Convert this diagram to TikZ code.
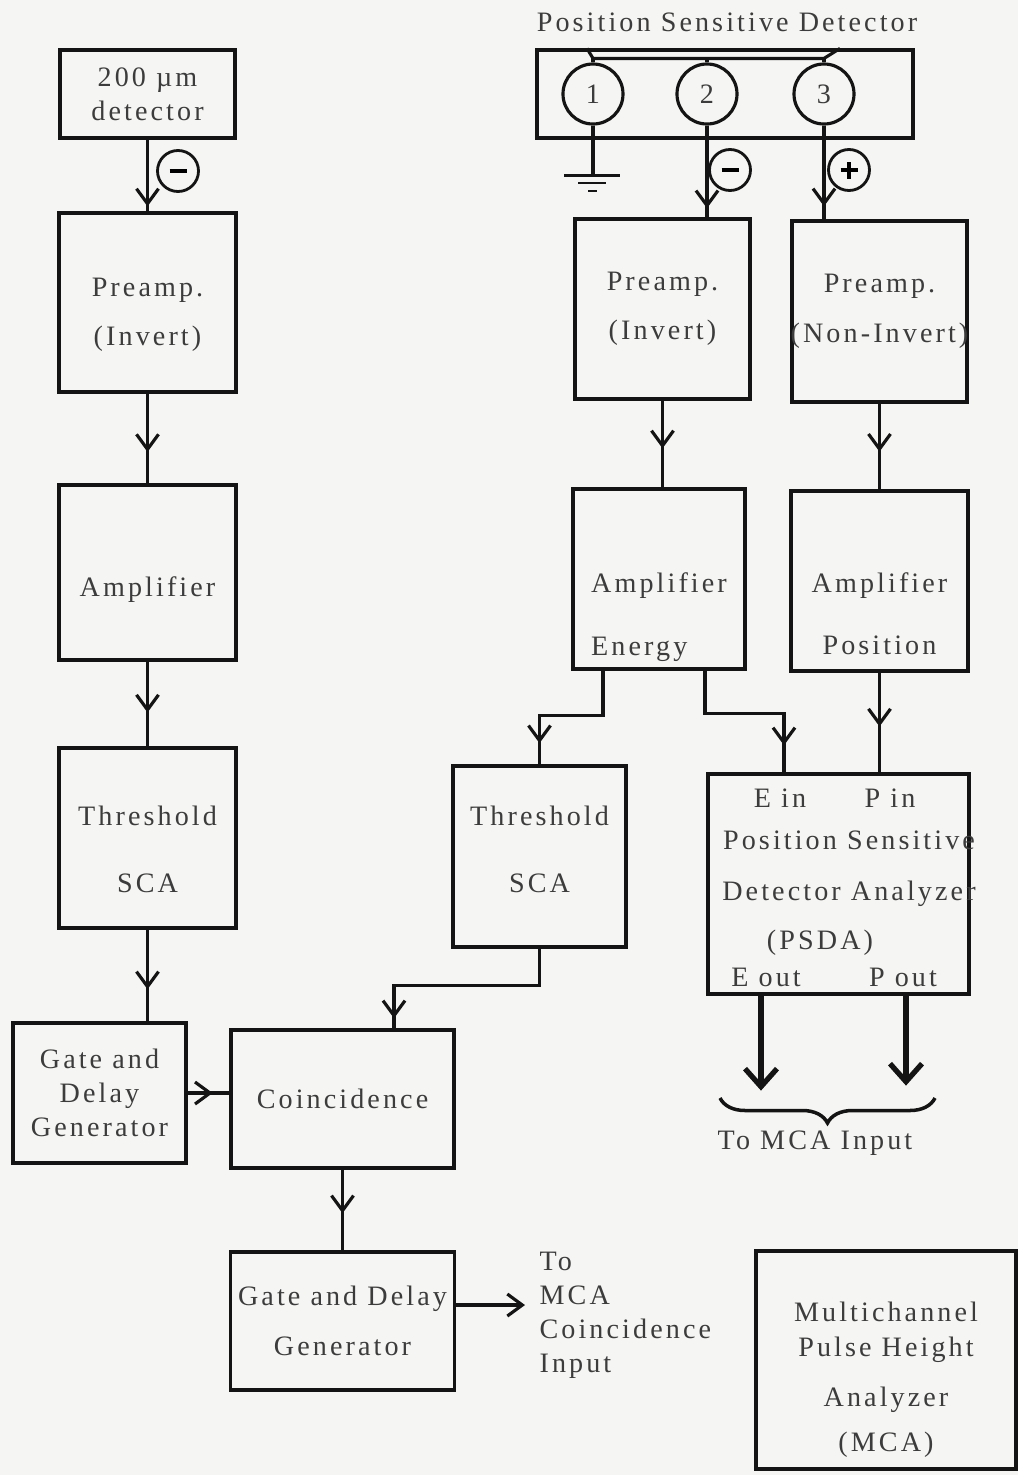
\documentclass[tikz,border=0pt]{standalone}
\usepackage{fontspec}
\setmainfont{Liberation Serif}[LetterSpace=11]
\usetikzlibrary{positioning,arrows.meta,decorations.markings,decorations.pathreplacing}
\definecolor{paper}{RGB}{245,245,243}
\definecolor{ink}{RGB}{20,20,20}
\definecolor{print}{RGB}{60,60,60}

\begin{document}
\begin{tikzpicture}[
  x=0.2mm, y=-0.2mm,
  font=\fontsize{16}{19.5}\selectfont,
  line width=1.8pt, draw=ink,
  blk/.style={rectangle, draw=ink, line width=1.8pt, inner sep=0pt, align=center, text=print},
  lbl/.style={inner sep=0pt, text=print, align=center},
  sgn/.style={circle, draw=ink, line width=1.6pt, minimum size=8.2mm, inner sep=0pt},
  pad/.style={circle, draw=ink, line width=1.8pt, minimum size=12mm, inner sep=0pt, text=print},
  flow/.style={decoration={markings, mark=at position #1 with {\arrow{Straight Barb[length=3mm,width=4.4mm]}}}, postaction={decorate}},
  flow/.default=0.6,
  outflow/.style={line width=3pt, -{Straight Barb[length=3.6mm,width=6.4mm]}},
  node distance=10mm
]
\fill[paper] (0,0) rectangle (1018,1475);
\useasboundingbox (0,0) rectangle (1018,1475);

% left chain
\node[blk, minimum width=35mm, minimum height=17.6mm] (det200) at (147.5,94) {200 µm\\detector};
\node[blk, below of=det200, node distance=41.7mm, minimum width=35.4mm, minimum height=35.8mm] (preampL) {};
\node[lbl, below of=preampL, node distance=2.4mm] (preampLtxt) {Preamp.\\[2.9mm](Invert)};
\node[blk, below of=preampL, node distance=54mm, minimum width=35.4mm, minimum height=35mm] (ampL) {};
\node[lbl, below of=ampL, node distance=3.4mm] (ampLtxt) {Amplifier};
\node[blk, below of=ampL, node distance=53.1mm, minimum width=35.4mm, minimum height=36mm] (thrL) {};
\node[lbl, below of=thrL, node distance=2.2mm] (thrLtxt) {Threshold\\[6.5mm]SCA};
\node[blk, below of=thrL, node distance=51mm, xshift=-9.6mm, minimum width=34.6mm, minimum height=28mm] (gdgL) {Gate and\\Delay\\Generator};
\node[blk, right of=gdgL, node distance=48.6mm, yshift=-1.2mm, minimum width=44.6mm, minimum height=27.6mm] (coinc) {Coincidence};
\node[blk, below of=coinc, node distance=44.4mm, minimum width=44.8mm, minimum height=27.6mm] (gdgC) {\makebox[0pt]{Gate and Delay}\\[3.1mm]Generator};
\node[lbl, anchor=north west, align=left] (tomca) at (538,1250) {To\\MCA\\Coincidence\\Input};

% position sensitive detector
\node[lbl] (title) at (727,22) {Position Sensitive Detector};
\node[blk, below of=title, node distance=14.4mm, xshift=-0.4mm, minimum width=75.2mm, minimum height=17.6mm] (psd) {};
\node[pad, xshift=-3.6mm] (c2) at (psd) {2};
\node[pad, left of=c2, node distance=22.8mm] (c1) {1};
\node[pad, right of=c2, node distance=23.4mm] (c3) {3};
\node[sgn] (sgnL) at (178,171) {\rule{3.4mm}{0.9mm}};
\node[sgn] (sgnM) at (730,170) {\rule{3.4mm}{0.9mm}};
\node[sgn] (sgnP) at (849,170) {\makebox[0pt]{\rule[1.25mm]{3.4mm}{0.9mm}}\makebox[0pt]{\rule{0.9mm}{3.4mm}}};

% right chain
\node[blk, below of=c2, node distance=43mm, xshift=-8.9mm, minimum width=35mm, minimum height=36mm] (preampI) {Preamp.\\[2.9mm](Invert)};
\node[blk, below of=c3, node distance=43.5mm, xshift=11.1mm, minimum width=35mm, minimum height=36.2mm] (preampN) {Preamp.\\[3.2mm]\makebox[0pt]{(Non-Invert)}};
\node[blk, below of=preampI, node distance=54mm, xshift=-0.7mm, minimum width=34.4mm, minimum height=36mm] (ampE) {};
\node[lbl, below of=ampE, node distance=7.6mm, align=left] (ampEtxt) {Amplifier\\[5.7mm]Energy};
\node[blk, below of=preampN, node distance=53.9mm, minimum width=35.4mm, minimum height=36mm] (ampP) {};
\node[lbl, below of=ampP, node distance=6.6mm] (ampPtxt) {Amplifier\\[5.5mm]Position};
\node[blk, below of=ampP, node distance=60.6mm, xshift=-8.2mm, minimum width=52.2mm, minimum height=44mm] (psda) {};
\node[blk, left of=psda, node distance=59.8mm, yshift=5.5mm, minimum width=34.6mm, minimum height=36.2mm] (thrR) {};
\node[lbl, above of=thrR, node distance=1.4mm] (thrRtxt) {Threshold\\[6.5mm]SCA};
\node[lbl] (ein) at (780,798) {E in};
\node[lbl] (pin) at (890,798) {P in};
\node[lbl] (psdaname) at (849,869) {Position Sensitive\\[3.3mm]Detector Analyzer};
\node[lbl] (psdaabbr) at (820,943) {(PSDA)};
\node[lbl] (eout) at (766,977) {E out};
\node[lbl] (pout) at (903,977) {P out};
\node[blk, below of=psda, node distance=95.2mm, xshift=9.5mm, minimum width=52mm, minimum height=43.6mm] (mca) {};
\node[lbl, below of=mca, node distance=4mm] (mcatxt) {Multichannel\\Pulse Height\\[3.3mm]Analyzer\\[2.1mm](MCA)};

\coordinate (mcacoin) at ([yshift=3.2mm]gdgC.east);
\coordinate (eleft) at ([xshift=-11.2mm]ampE.south);
\coordinate (eright) at ([xshift=9.2mm]ampE.south);
\coordinate (epin) at ([xshift=-10.9mm]psda.north);
\coordinate (coinin) at ([xshift=10.3mm]coinc.north);
\coordinate (eo) at ([xshift=-15.5mm]psda.south);
\coordinate (po) at ([xshift=13.5mm]psda.south);
\coordinate (brl) at (720,1098);
\coordinate (brr) at (935,1098);

% detector wiring
\draw ([xshift=-1.2mm]c1 |- psd.north) -- ([yshift=0.8mm]c1.north) -- ([yshift=0.8mm]c3.north) -- ([xshift=3.2mm]c3 |- psd.north);
\foreach \c in {c1,c2,c3}
  \draw (\c.north) -- ++(0,-4);
\draw (c1.south) -- ++(0,50) coordinate (gnd);
\draw ([xshift=-5.8mm]gnd) -- ([xshift=5.4mm]gnd);
\draw[line width=1.2pt] ([shift={(-3mm,-1.4mm)}]gnd) -- ([shift={(2.6mm,-1.4mm)}]gnd);
\draw[line width=1.2pt] ([shift={(-1mm,-3mm)}]gnd) -- ([shift={(0.8mm,-3mm)}]gnd);

% signal flow
\draw[flow=0.93] (det200) -- (preampL);
\draw[flow=0.65] (preampL) -- (ampL);
\draw[flow=0.6] (ampL) -- (thrL);
\draw[flow=0.65] (thrL.south) -- (thrL.south |- gdgL.north);
\draw[flow=0.6] (gdgL.east) -- (gdgL.east -| coinc.west);
\draw[flow=0.54] (coinc) -- (gdgC);
\draw[-{Straight Barb[length=3mm,width=4.4mm]}, shorten >=2.6mm] (mcacoin) -- (mcacoin -| tomca.west);
\draw[flow=0.955] (thrR.south) -- ++(0,37) -| (coinin);
\draw[flow=0.9] (c2.south) -- (c2.south |- preampI.north);
\draw[flow=0.86] (c3.south) -- (c3.south |- preampN.north);
\draw[flow=0.55] (preampI.south) -- (preampI.south |- ampE.north);
\draw[flow=0.56] (preampN.south) -- (preampN.south |- ampP.north);
\draw[flow=0.54] (ampP.south) -- (ampP.south |- psda.north);
\draw[flow=0.865] (eleft) -- ++(0,45) -| (thrR.north);
\draw[flow=0.85] (eright) -- ++(0,43) -| (epin);
\draw[outflow] (eo) -- ++(0,95);
\draw[outflow] (po) -- ++(0,90);
\draw[decorate, decoration={brace, mirror, amplitude=5mm}, line width=2pt] (brl) -- (brr);
\node[lbl] (tomcain) at (815,1143) {To MCA Input};
\end{tikzpicture}
\end{document}
